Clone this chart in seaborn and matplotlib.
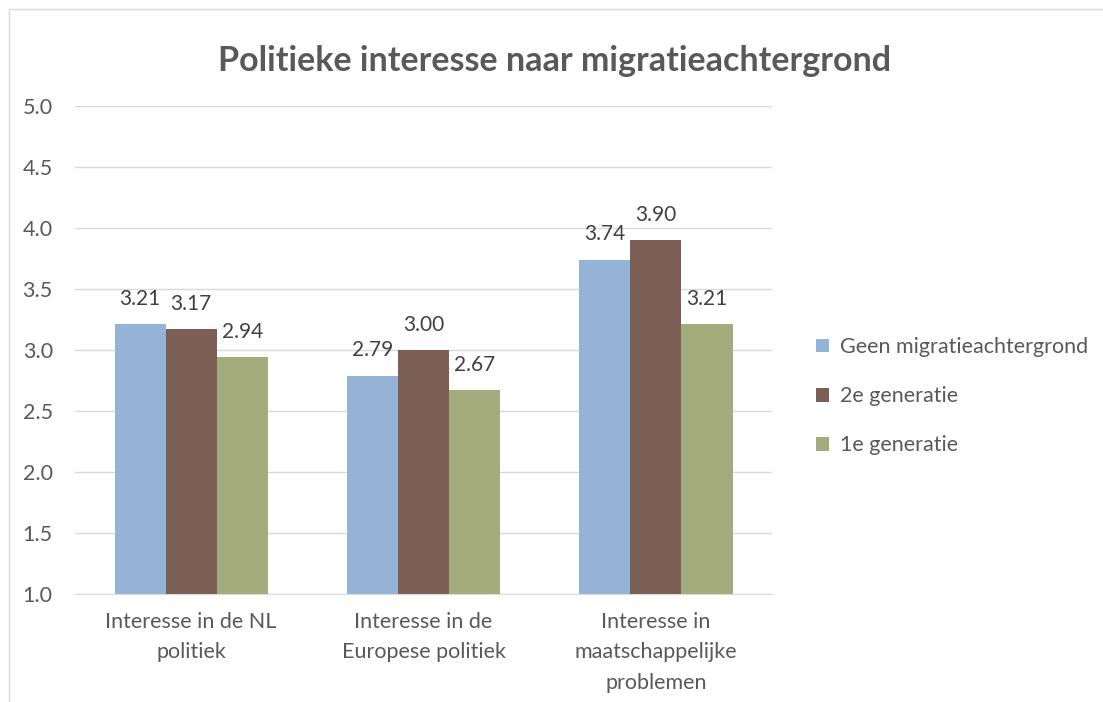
import numpy as np
import pandas as pd
import matplotlib
matplotlib.use('Agg')
import matplotlib.pyplot as plt
import seaborn as sns
from matplotlib.patches import Rectangle

categories = ['Interesse in de NL\npolitiek', 'Interesse in de\nEuropese politiek',
              'Interesse in\nmaatschappelijke\nproblemen']
groups = ['Geen migratieachtergrond', '2e generatie', '1e generatie']
geen = [3.21, 2.79, 3.74]
tweede = [3.17, 3.00, 3.90]
eerste = [2.94, 2.67, 3.21]
colors = ['#95B3D7', '#7B5E54', '#A4AC7D']
text_color = '#595959'

df = pd.DataFrame({
    'categorie': categories * 3,
    'groep': [g for g in groups for _ in categories],
    'score': geen + tweede + eerste,
})

sns.set_style('white')
plt.rcParams['font.family'] = ['Lato', 'DejaVu Sans']

fig = plt.figure(figsize=(11.03, 7.02), dpi=100)
ax = fig.add_axes([0.068, 0.154, 0.632, 0.695])

sns.barplot(data=df, x='categorie', y='score', hue='groep', hue_order=groups,
            palette=colors, width=0.66, saturation=1, ax=ax, linewidth=0)

for cont in ax.containers:
    ax.bar_label(cont, fmt='%.2f', padding=11, fontsize=15, color='#404040')

ax.set_ylim(1.0, 5.0)
ax.set_yticks(np.arange(1.0, 5.01, 0.5))
ax.set_yticklabels([f'{v:.1f}' for v in np.arange(1.0, 5.01, 0.5)])
ax.yaxis.grid(True, color='#D9D9D9', linewidth=1)
ax.set_axisbelow(True)
for s in ['top', 'right', 'left']:
    ax.spines[s].set_visible(False)
ax.spines['bottom'].set_color('#D9D9D9')
ax.tick_params(axis='both', length=0, labelsize=15.5, colors=text_color)
ax.tick_params(axis='x', pad=13)
ax.tick_params(axis='y', pad=16)
for t in ax.get_xticklabels():
    t.set_linespacing(1.65)
ax.set_xlabel('')
ax.set_ylabel('')

leg = ax.legend(loc='center left', bbox_to_anchor=(1.035, 0.405), frameon=False,
                fontsize=15.5, handlelength=0.6, handleheight=0.6,
                handletextpad=0.5, labelspacing=1.35)
for t in leg.get_texts():
    t.set_color(text_color)

fig.text(0.503, 0.913, 'Politieke interesse naar migratieachtergrond',
         ha='center', va='center', fontsize=24.5, fontweight='bold', color=text_color)

fig.patches.append(Rectangle((0.008, -0.1), 1.2, 1.087, transform=fig.transFigure,
                             fill=False, edgecolor='#D9D9D9', linewidth=1))

fig.savefig('out.png', dpi=100)
